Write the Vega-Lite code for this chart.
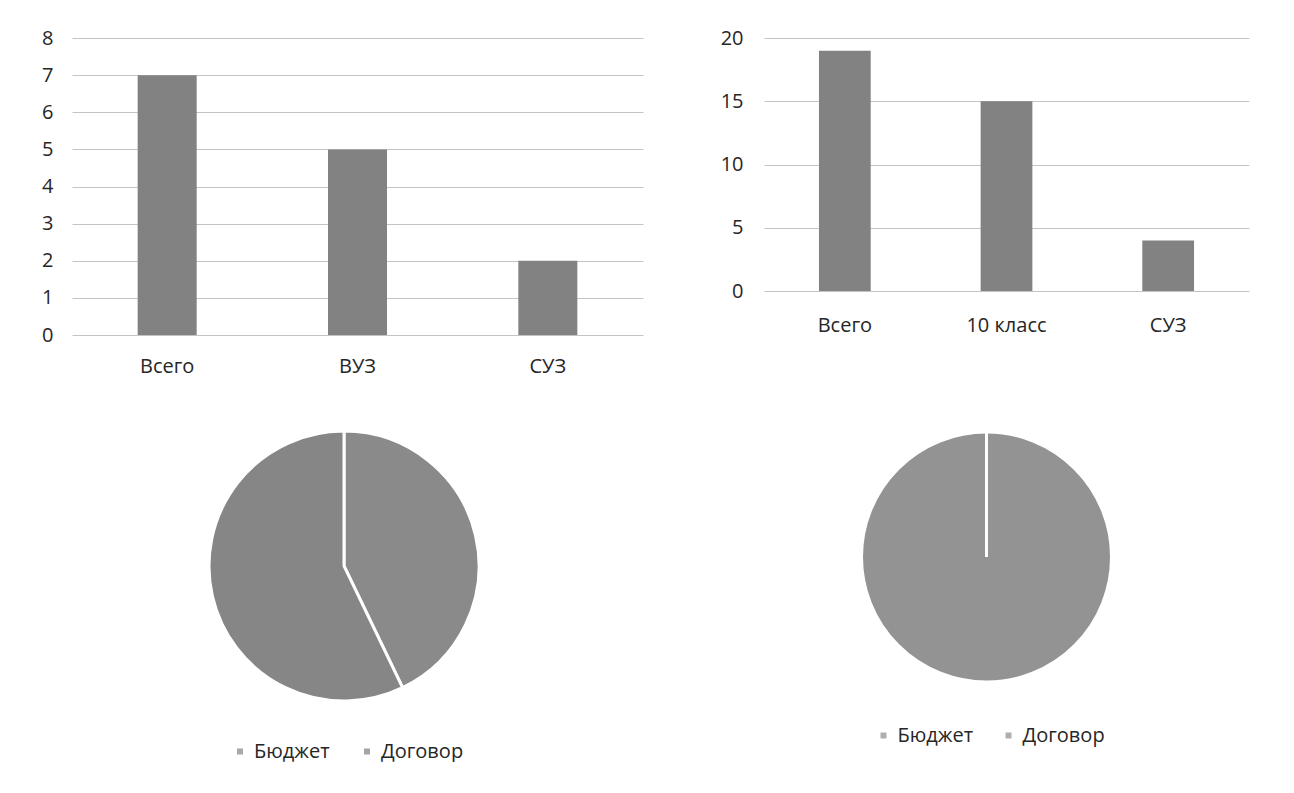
{
  "$schema": "https://vega.github.io/schema/vega-lite/v6.json",
  "padding": {"left": 0, "top": 28, "right": 0, "bottom": 0},
  "background": "white",
  "config": {
    "font": "Open Sans",
    "view": {"stroke": null},
    "axis": {
      "labelFont": "Open Sans",
      "labelFontSize": 20,
      "labelColor": "#262626",
      "domain": false,
      "ticks": false,
      "tickSize": 0,
      "title": null,
      "gridColor": "#c4c4c4",
      "gridWidth": 1
    },
    "legend": {"labelFont": "Open Sans", "labelFontSize": 20, "labelColor": "#262626"}
  },
  "spacing": 23.5,
  "vconcat": [
    {
      "spacing": 61,
      "hconcat": [
        {
          "width": 571,
          "height": 297,
          "data": {"values": [
            {"category": "Всего", "value": 7},
            {"category": "ВУЗ", "value": 5},
            {"category": "СУЗ", "value": 2}
          ]},
          "mark": {"type": "bar", "color": "#828282"},
          "encoding": {
            "x": {"field": "category", "type": "nominal", "sort": null,
              "scale": {"paddingInner": 0.69, "paddingOuter": 0.345},
              "axis": {"labelAngle": 0, "labelPadding": 21.5, "grid": false}},
            "y": {"field": "value", "type": "quantitative",
              "scale": {"domain": [0, 8], "nice": false},
              "axis": {"values": [0, 1, 2, 3, 4, 5, 6, 7, 8], "labelPadding": 19, "minExtent": 72, "maxExtent": 72, "grid": true}}
          }
        },
        {
          "width": 485,
          "height": 253,
          "data": {"values": [
            {"category": "Всего", "value": 19},
            {"category": "10 класс", "value": 15},
            {"category": "СУЗ", "value": 4}
          ]},
          "mark": {"type": "bar", "color": "#828282"},
          "encoding": {
            "x": {"field": "category", "type": "nominal", "sort": null,
              "scale": {"paddingInner": 0.68, "paddingOuter": 0.34},
              "axis": {"labelAngle": 0, "labelPadding": 24, "grid": false}},
            "y": {"field": "value", "type": "quantitative",
              "scale": {"domain": [0, 20], "nice": false},
              "axis": {"values": [0, 5, 10, 15, 20], "labelPadding": 21, "minExtent": 60, "maxExtent": 60, "grid": true}}
          }
        }
      ]
    },
    {
      "spacing": 90.5,
      "resolve": {"scale": {"color": "independent"}, "legend": {"color": "independent"}},
      "hconcat": [
        {
          "width": 544,
          "height": 331,
          "data": {"values": [
            {"type": "Бюджет", "count": 3},
            {"type": "Договор", "count": 4}
          ]},
          "mark": {"type": "arc", "outerRadius": 135, "stroke": "white", "strokeWidth": 3},
          "encoding": {
            "theta": {"field": "count", "type": "quantitative", "stack": true},
            "color": {"field": "type", "type": "nominal",
              "scale": {"domain": ["Бюджет", "Договор"], "range": ["#8a8a8a", "#868686"]},
              "legend": {"title": null, "orient": "none", "legendX": 158, "legendY": 341, "direction": "horizontal",
                "symbolType": "square", "symbolSize": 36, "symbolStrokeWidth": 0, "symbolOpacity": 0.75,
                "labelOffset": 4, "columnPadding": 27, "padding": 0}}
          }
        },
        {
          "width": 560,
          "height": 313,
          "data": {"values": [
            {"type": "Бюджет", "count": 19},
            {"type": "Договор", "count": 0}
          ]},
          "mark": {"type": "arc", "outerRadius": 125, "stroke": "white", "strokeWidth": 3},
          "encoding": {
            "theta": {"field": "count", "type": "quantitative", "stack": true},
            "color": {"field": "type", "type": "nominal",
              "scale": {"domain": ["Бюджет", "Договор"], "range": ["#939393", "#939393"]},
              "legend": {"title": null, "orient": "none", "legendX": 167, "legendY": 325, "direction": "horizontal",
                "symbolType": "square", "symbolSize": 36, "symbolStrokeWidth": 0, "symbolOpacity": 0.75,
                "labelOffset": 4, "columnPadding": 25, "padding": 0}}
          }
        }
      ]
    }
  ]
}
